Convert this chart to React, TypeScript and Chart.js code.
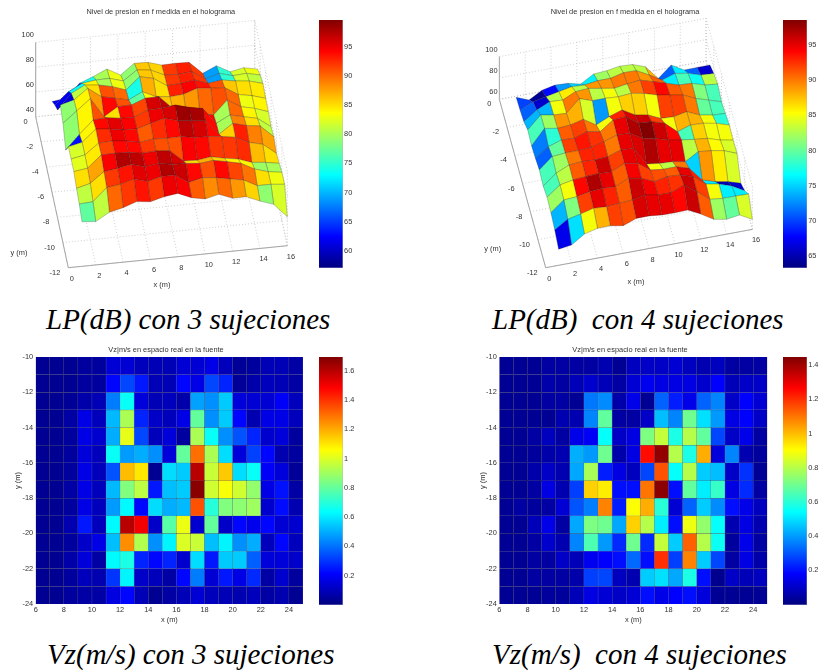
import { useEffect, useRef } from "react";
import { Chart, registerables } from "chart.js";

Chart.register(...registerables);

// ---------- data ----------
const surfaceXs = [1, 2, 3, 4, 5, 6, 7, 8, 9, 10, 11, 12, 13, 14, 15, 16];
const surfaceYs = [-12, -11, -10, -9, -8, -7, -6, -5, -4, -3, -2, -1];
const xTicks3d = [0, 2, 4, 6, 8, 10, 12, 14, 16];
const yTicks3d = [0, -2, -4, -6, -8, -10, -12];
const zTicksA = [40, 60, 80, 100];
const zTicksB = [60, 80, 100];

const heightsA = [
  [76, 75, 81.4, 84, 87.8, 86.6, 89.5, 91.1, 86.5, 84.4, 87, 82.7, 82.9, 78.2, 74.5, 63.4],
  [80.1, 80.9, 91.1, 92.7, 95.9, 92.7, 95.6, 95.8, 88.7, 91.4, 90.3, 88.2, 86.2, 80.5, 80.5, 79.4],
  [82.6, 85.5, 93.9, 95.4, 97.6, 94.6, 96.2, 94.2, 93.9, 92.8, 94.1, 91.9, 89.5, 83.8, 80.5, 78.9],
  [86, 87.6, 97.2, 97.4, 97, 95.2, 96, 95.1, 85.7, 85.1, 86.9, 84.5, 82.8, 79, 77.9, 76],
  [86, 88.2, 96.5, 97.2, 96.1, 93.9, 95.5, 94.9, 95.2, 93.3, 93, 91.9, 90.2, 85, 82.3, 73.9],
  [85.7, 88.2, 97.8, 96.7, 94.9, 94.6, 97.9, 100.9, 97.9, 96.8, 95.7, 83.6, 91.3, 88.4, 87, 77.2],
  [72.9, 84.4, 94.9, 95.7, 94.1, 93.8, 98.6, 98.8, 100.4, 97.4, 95.4, 82.2, 87.9, 85.4, 83, 75.2],
  [84.4, 93.2, 102, 86.3, 93.3, 93.6, 97.9, 98.1, 87.6, 82.4, 81.3, 78.8, 89.8, 83.3, 80.9, 77.1],
  [89, 91.9, 100.2, 92.4, 89.9, 87.5, 93, 87.9, 86.8, 87.6, 91.4, 90.3, 89.7, 83, 81, 77.7],
  [74.8, 87.1, 92.7, 91.6, 89.2, 85.4, 95, 92.5, 85.5, 86.3, 87.9, 84.1, 85.7, 83.8, 82.6, 79.6],
  [68.7, 78.3, 83.9, 85.5, 85.7, 82.5, 90.3, 89.1, 84, 83.4, 84.5, 77.4, 80.9, 77.9, 78.7, 76.2],
  [61.3, 62.9, 73.8, 78.1, 83.1, 77.2, 85.5, 85.2, 81.9, 82.2, 81.9, 71.9, 76.9, 70.9, 73.1, 70.9],
];
const pressureA = [
  [77, 81, 90, 92, 93.5, 92, 95, 94.5, 90.5, 88.5, 90, 88, 85.5, 79, 82],
  [81, 85, 92, 93.5, 95.5, 95, 97.5, 96.5, 94, 91, 94, 91.5, 89.5, 85, 83],
  [85, 87.5, 94.5, 97.5, 97, 95, 97, 96, 85, 87, 85.5, 84, 84, 79.5, 80],
  [82.5, 84.5, 91.5, 94, 94, 92, 91, 91, 94.5, 94, 92, 92, 92.5, 86.5, 85],
  [82, 84.5, 92.5, 95, 94, 90.5, 92.5, 94, 97, 96, 94, 85.5, 93, 89, 87.5],
  [63, 84, 94, 95.5, 94.5, 92, 95, 96, 98.5, 98, 94, 80, 89, 85, 81],
  [79, 84, 91, 85, 94, 91.5, 96, 97, 96, 96, 94, 80, 90, 84, 82],
  [79, 84, 88, 94, 91, 77, 84, 86, 87, 88, 90, 91, 90, 83, 84],
  [61, 81, 85, 91, 90, 74, 87, 85, 93, 94.5, 93.5, 91, 86, 85, 84.5],
  [62, 73, 84, 80, 83, 79, 86, 85.5, 92, 93, 92, 69, 75, 82, 81],
  [62, 64, 74, 80, 83, 79, 86, 85.5, 92, 93, 92, 69, 75, 82, 83],
];

const heightsB = [
  [75, 76.8, 84.8, 87.9, 88.1, 85.9, 90.5, 90.5, 89.2, 89, 89.4, 83.4, 76.1, 73.9, 75.7, 69.4],
  [80, 87.7, 90.4, 93.5, 92.8, 93.7, 94.6, 97, 94.8, 94.7, 99.7, 91.2, 81.7, 80.4, 80.3, 80],
  [83, 92.7, 93.5, 96, 96.9, 96.2, 101.7, 99.5, 94.1, 96.6, 95.9, 92, 82.9, 80.7, 76.6, 70],
  [84.3, 93.6, 96, 96.9, 97.7, 97, 102.6, 100.4, 91.9, 90.3, 90.5, 86.7, 73.5, 69.7, 67.5, 63.7],
  [81.7, 91.4, 96.9, 97.8, 97.1, 98, 102, 101.3, 84.4, 82.7, 82, 79.8, 86.9, 85.6, 83.4, 78.6],
  [83.6, 93.9, 95, 95, 95.8, 98.9, 102.9, 102.2, 95.3, 93, 89.2, 87, 85.3, 84, 80.2, 77.9],
  [81.3, 90, 94, 93.4, 97.4, 95, 103.8, 104.7, 96.2, 95.5, 91.7, 81.6, 85.6, 85, 82.7, 78.8],
  [79.8, 94, 91.8, 92.7, 95.7, 88.2, 93.8, 97.8, 90.9, 88.6, 83.2, 82.5, 85, 79.6, 77.3, 76.6],
  [81.6, 93.4, 91.2, 90.5, 102, 97.8, 97.8, 97, 98, 95.7, 92, 89.7, 87.5, 82, 78.2, 74.4],
  [76.3, 85, 90.5, 89.8, 95.4, 96.2, 94, 91.8, 93.6, 95, 91.3, 87.5, 83.7, 83, 79.2, 77.8],
  [74, 79.6, 82, 84.5, 86.9, 86.2, 88, 88, 91, 90.7, 84.4, 77.4, 81.4, 79.2, 75.4, 74.7],
  [72.8, 68, 75, 77.5, 76.9, 74, 81.2, 82, 84, 83.4, 79, 65.8, 76.1, 69.2, 69.4, 69.4],
];
const pressureB = [
  [67, 75.5, 85, 88, 92, 91.5, 95.5, 95, 95, 94, 96, 91, 82, 80, 84],
  [74, 81, 92, 95, 93, 91, 96, 94.5, 93, 92.5, 96, 92, 85, 76, 76],
  [82, 85, 94, 97, 95, 91, 94.5, 92, 91.5, 91, 95, 93, 76, 65, 66],
  [79, 83, 91, 93, 96, 92, 95, 95, 85, 83, 90, 75, 89, 86, 84],
  [79, 82, 90, 93, 93, 90, 95, 95.5, 97, 95, 95, 83, 88, 85.5, 84],
  [71, 80, 92, 93.5, 92.5, 90, 95, 97, 98.5, 96, 94, 79, 87, 85, 85],
  [72, 78, 91, 92, 90, 85, 93, 95.5, 96, 92, 85, 88, 88, 85, 78],
  [79, 82, 89, 88, 84, 73, 85, 87, 87, 85, 92, 92, 90, 80, 79],
  [74, 74, 85, 90, 89, 83, 85, 83, 90, 92, 94, 91, 90, 81, 79],
  [71, 66, 83, 86, 83, 89, 89, 90, 90, 89, 91, 76, 79, 77, 83],
  [70, 64, 68, 73, 75, 76, 82, 83, 83, 83, 88, 71, 76, 71, 66],
];

const gridColumns = [6, 7, 8, 9, 10, 11, 12, 13, 14, 15, 16, 17, 18, 19, 20, 21, 22, 23, 24];
const gridRows = [-10, -11, -12, -13, -14, -15, -16, -17, -18, -19, -20, -21, -22, -23];

const velocityA = [
  [.03, .03, .03, .05, .05, .14, .14, .1, .09, .09, .14, .14, .17, .1, .04, .05, .09, .09, .06],
  [.03, .03, .03, .05, .05, .22, .33, .25, .09, .09, .22, .17, .33, .27, .04, .07, .1, .09, .06],
  [.03, .03, .04, .07, .09, .42, .65, .15, .09, .1, .07, .48, .45, .55, .15, .14, .14, .2, .1],
  [.03, .03, .06, .17, .1, .52, .92, .27, .12, .1, .17, .8, .45, .55, .22, .08, .17, .17, .1],
  [.03, .03, .05, .17, .13, .5, 1.02, .33, .1, .15, .05, .92, .65, .45, .35, .27, .13, .15, .05],
  [.03, .03, .05, .15, .1, .65, .47, .5, .45, .15, .8, 1.3, .92, .58, .15, .32, .22, .08, .05],
  [.03, .03, .05, .17, .1, .35, 1.17, 1.1, .03, .58, .55, 1.6, .97, 1.15, .58, .65, .2, .15, .04],
  [.03, .03, .06, .17, .1, .52, .85, .95, .25, .53, .55, 1.68, .98, 1.05, .98, .88, .17, .24, .06],
  [.03, .03, .05, .17, .1, .47, .63, .22, .58, .5, .52, 1.35, .7, .85, .87, .9, .13, .23, .08],
  [.03, .03, .08, .25, .1, .63, 1.6, 1.5, .12, .78, 1.03, .13, .8, .12, .22, .18, .22, .14, .13],
  [.03, .03, .05, .12, .17, .53, 1.25, .93, .45, .62, 1, .97, .53, .62, .45, .5, .1, .22, .1],
  [.03, .03, .07, .15, .06, .63, .68, .27, .22, .27, .13, .58, .25, .55, .55, .37, .15, .15, .12],
  [.03, .03, .05, .1, .08, .3, .62, .12, .1, .06, .22, .42, .14, .25, .17, .28, .06, .13, .05],
  [.03, .03, .05, .06, .06, .16, .22, .09, .03, .06, .09, .14, .1, .09, .08, .1, .06, .08, .03],
];

const velocityB = [
  [.03, .03, .03, .05, .05, .05, .05, .07, .03, .09, .1, .1, .12, .09, .07, .09, .05, .05, .05],
  [.03, .03, .03, .06, .05, .08, .11, .08, .05, .12, .16, .14, .14, .14, .11, .18, .08, .1, .1],
  [.03, .03, .03, .05, .05, .03, .35, .38, .06, .15, .03, .32, .22, .15, .32, .37, .1, .18, .12],
  [.03, .03, .03, .03, .07, .07, .37, .68, .05, .05, .1, .45, .37, .7, .5, .4, .14, .18, .1],
  [.03, .03, .05, .09, .05, .15, .17, .55, .1, .14, .72, .82, .58, .8, .68, .28, .1, .15, .05],
  [.03, .03, .04, .06, .07, .43, .4, .7, .06, .14, 1.25, 1.42, .8, .58, 1.02, .13, .37, .07, .04],
  [.03, .03, .06, .1, .07, .42, .78, .22, .14, .09, .28, 1.15, .55, .8, .47, .45, .1, .25, .03],
  [.03, .03, .05, .14, .07, .27, .97, .93, .2, .2, 1.1, 1.43, .2, .68, .52, .62, .14, .24, .05],
  [.03, .05, .04, .05, .12, .3, .36, 1.08, .22, .9, 1.02, .6, .12, .32, .47, .38, .2, .15, .09],
  [.03, .03, .08, .15, .05, .42, .72, .7, .42, .97, .8, .52, .2, .88, .75, .55, .07, .14, .07],
  [.03, .03, .05, .11, .07, .37, .65, .4, .24, .7, .24, .82, .47, 1.13, .8, .56, .04, .15, .05],
  [.03, .03, .05, .05, .1, .08, .16, .18, .2, .33, .2, 1.2, .27, 1.08, .47, .28, .05, .14, .06],
  [.03, .03, .05, .05, .05, .06, .27, .28, .09, .07, .47, .5, .42, .58, .2, .02, .1, .08, .09],
  [.03, .03, .03, .04, .04, .08, .14, .12, .1, .12, .2, .15, .18, .2, .13, .03, .03, .03, .03],
];

const barTicksA = [60, 65, 70, 75, 80, 85, 90, 95];
const barTicksB = [65, 70, 75, 80, 85, 90, 95];
const barTicksC = [0.2, 0.4, 0.6, 0.8, 1, 1.2, 1.4, 1.6];
const barTicksD = [0.2, 0.4, 0.6, 0.8, 1, 1.2, 1.4];

const titlePressure = "Nivel de presion en f medida en el holograma";
const titleVelocity = "Vz|m/s en espacio real en la fuente";
const captions = [
  { text: "LP(dB) con 3 sujeciones", left: 46, top: 302 },
  { text: "LP(dB)  con 4 sujeciones", left: 492, top: 302 },
  { text: "Vz(m/s) con 3 sujeciones", left: 47, top: 637 },
  { text: "Vz(m/s)  con 4 sujeciones", left: 492, top: 637 },
];

// ---------- helpers ----------
const FONT = "'Liberation Sans', Arial, sans-serif";
const TICK_SIZE = 7.4;
const INK = "#333";

const clamp01 = (v: number) => Math.max(0, Math.min(1, v));
function jet(t: number) {
  const r = clamp01(1.5 - Math.abs(4 * t - 3));
  const g = clamp01(1.5 - Math.abs(4 * t - 2));
  const b = clamp01(1.5 - Math.abs(4 * t - 1));
  return `rgb(${Math.round(r * 255)},${Math.round(g * 255)},${Math.round(b * 255)})`;
}

type TextItem = { text: string; x: number; y: number; align?: CanvasTextAlign };

const textPlugin = (items: TextItem[]) => ({
  id: "panelText",
  afterDraw(chart: any) {
    const ctx = chart.ctx;
    ctx.save();
    ctx.fillStyle = INK;
    ctx.font = `${TICK_SIZE}px ${FONT}`;
    ctx.textBaseline = "middle";
    for (const it of items) {
      ctx.textAlign = it.align || "center";
      ctx.fillText(it.text, it.x, it.y);
    }
    ctx.restore();
  },
});

function ChartCanvas({ left, top, width, height, build }: any) {
  const ref = useRef<HTMLCanvasElement>(null);
  useEffect(() => {
    const chart = new Chart(ref.current as HTMLCanvasElement, build());
    return () => chart.destroy();
  }, []);
  return (
    <canvas
      ref={ref}
      width={width}
      height={height}
      style={{ position: "absolute", left, top, width, height, filter: "blur(0.45px)" }}
    />
  );
}

// ---------- 3D surface panels ----------
type View = {
  origin: [number, number];
  ex: [number, number];
  ey: [number, number];
  ez: number;
  zFloor: number;
  zTicks: number[];
  cmin: number;
  cmax: number;
  title: [number, number];
  xLabel: [number, number];
  yLabel: [number, number];
};

function surfaceConfig(view: View, heights: number[][], faces: number[][], w: number, h: number) {
  const project = (x: number, y: number, z: number) => ({
    x: view.origin[0] + x * view.ex[0] + (y + 12) * view.ey[0],
    y: view.origin[1] + x * view.ex[1] + (y + 12) * view.ey[1] - (z - view.zFloor) * view.ez,
  });

  const datasets: any[] = [];
  // datasets are painted last-to-first: front faces go first so that they stay on top
  for (let r = 0; r < faces.length; r++) {
    for (let c = 0; c < faces[r].length; c++) {
      const p = (rr: number, cc: number) => project(surfaceXs[cc], surfaceYs[rr], heights[rr][cc]);
      datasets.push({
        data: [p(r, c), p(r, c + 1), p(r + 1, c + 1), p(r + 1, c), p(r, c)],
        showLine: true,
        fill: "shape",
        backgroundColor: jet((faces[r][c] - view.cmin) / (view.cmax - view.cmin)),
        borderColor: "rgba(30,30,30,0.5)",
        borderWidth: 0.5,
        pointRadius: 0,
        tension: 0,
      });
    }
  }
  const guide = (a: any, b: any, solid = false) =>
    datasets.push({
      data: [a, b],
      showLine: true,
      fill: false,
      borderColor: solid ? "#888" : "#bbb",
      borderWidth: solid ? 0.8 : 0.7,
      borderDash: solid ? [] : [1, 2],
      pointRadius: 0,
    });
  const f = view.zFloor;
  const zTop = view.zTicks[view.zTicks.length - 1];
  for (const x of xTicks3d) {
    guide(project(x, -12, f), project(x, 0, f));
    guide(project(x, 0, f), project(x, 0, zTop));
  }
  for (const y of yTicks3d) {
    guide(project(0, y, f), project(16, y, f));
    guide(project(16, y, f), project(16, y, zTop));
  }
  for (const z of view.zTicks) {
    guide(project(0, 0, z), project(16, 0, z));
    guide(project(16, 0, z), project(16, -12, z));
  }
  guide(project(0, 0, f), project(0, 0, zTop), true);
  guide(project(0, 0, f), project(0, -12, f), true);
  guide(project(0, -12, f), project(16, -12, f), true);

  const items: TextItem[] = [
    { text: titlePressure, x: view.title[0], y: view.title[1] },
    { text: "x (m)", x: view.xLabel[0], y: view.xLabel[1] },
    { text: "y (m)", x: view.yLabel[0], y: view.yLabel[1] },
  ];
  for (const x of xTicks3d) {
    const p = project(x, -12, f);
    items.push({ text: String(x), x: p.x + 3.6, y: p.y + 11 });
  }
  for (const y of yTicks3d) {
    const p = project(0, y, f);
    items.push({ text: String(y), x: p.x - 8, y: p.y + 5, align: "right" });
  }
  for (const z of view.zTicks) {
    const p = project(0, 0, z);
    items.push({ text: String(z), x: p.x - 1.8, y: p.y - 7, align: "right" });
  }

  return {
    type: "scatter" as const,
    data: { datasets },
    plugins: [textPlugin(items)],
    options: {
      animation: false as const,
      responsive: false,
      layout: { padding: 0 },
      plugins: { legend: { display: false }, tooltip: { enabled: false }, title: { display: false } },
      scales: {
        x: { type: "linear", min: 0, max: w, display: false },
        y: { type: "linear", min: 0, max: h, reverse: true, display: false },
      },
    },
  };
}

// ---------- heat-map panels ----------
function heatConfig(values: number[][], cmax: number, yBand: number, yTitleGap: number, rightGap: number, titleX: number) {
  const datasets = gridRows.map((top, r) => ({
    label: String(top),
    data: gridColumns.map((x) => ({ x: x + 0.5, y: [top - 1, top] })),
    backgroundColor: values[r].map((v) => jet(v / cmax)),
    borderColor: "rgba(0,0,20,0.32)",
    borderWidth: 0.6,
    borderSkipped: false,
    inflateAmount: 0.5,
    grouped: false,
    categoryPercentage: 1,
    barPercentage: 1,
  }));
  const axisFont = { family: FONT, size: TICK_SIZE };
  return {
    type: "bar" as const,
    data: { datasets },
    plugins: [textPlugin([{ text: titleVelocity, x: titleX, y: 5 }])],
    options: {
      animation: false as const,
      responsive: false,
      layout: { padding: { top: 12, right: rightGap, left: 0, bottom: 0 } },
      plugins: { legend: { display: false }, tooltip: { enabled: false } },
      scales: {
        x: {
          type: "linear",
          min: 6,
          max: 25,
          offset: false,
          grid: { display: false, drawTicks: false },
          border: { display: false },
          ticks: {
            stepSize: 2,
            includeBounds: false,
            autoSkip: false,
            maxRotation: 0,
            font: axisFont,
            color: INK,
            padding: 2,
          },
          title: { display: true, text: "x (m)", font: axisFont, color: INK, padding: { top: 0, bottom: 0.6 } },
          afterFit(scale: any) {
            scale.height = 21;
          },
        },
        y: {
          type: "linear",
          min: -24,
          max: -10,
          grid: { display: false, drawTicks: false },
          border: { display: false },
          ticks: { stepSize: 2, autoSkip: false, font: axisFont, color: INK, padding: 2.5 },
          title: { display: true, text: "y (m)", font: axisFont, color: INK, padding: { top: yTitleGap, bottom: 0 } },
          afterFit(scale: any) {
            scale.width = yBand;
          },
        },
      },
    },
  };
}

// ---------- colour bars ----------
function colorBarConfig(min: number, max: number, ticks: number[], labelWidth: number, height: number, top: number) {
  return {
    type: "bar" as const,
    data: {
      labels: ["c"],
      datasets: [
        {
          data: [[min, max]],
          categoryPercentage: 1,
          barPercentage: 1,
          borderWidth: 0,
          backgroundColor(ctx: any) {
            const area = ctx.chart.chartArea;
            if (!area) return "#000";
            const g = ctx.chart.ctx.createLinearGradient(0, area.bottom, 0, area.top);
            for (let i = 0; i <= 8; i++) g.addColorStop(i / 8, jet(i / 8));
            return g;
          },
        },
      ],
    },
    options: {
      animation: false as const,
      responsive: false,
      layout: { padding: { top, bottom: height - top - 247.7, left: 0, right: 0 } },
      plugins: { legend: { display: false }, tooltip: { enabled: false } },
      scales: {
        x: { display: false },
        y: {
          position: "right",
          min,
          max,
          grid: { display: false, drawTicks: false },
          border: { display: true, color: "#888", width: 0.6 },
          afterBuildTicks(scale: any) {
            scale.ticks = ticks.map((value) => ({ value }));
          },
          ticks: {
            font: { family: FONT, size: TICK_SIZE },
            color: INK,
            padding: 1.5,
            autoSkip: false,
            callback: (v: any) => String(v),
          },
          afterFit(scale: any) {
            scale.width = labelWidth;
          },
        },
      },
    },
  };
}

const viewA: View = {
  origin: [68.3, 267.7],
  ex: [13.69, -1.375],
  ey: [-2.717, -12.58],
  ez: 1.239,
  zFloor: 40,
  zTicks: zTicksA,
  cmin: 57.1,
  cmax: 99.6,
  title: [160.8, 12.3],
  xLabel: [162, 285],
  yLabel: [19, 253],
};
const viewB: View = {
  origin: [135.7, 267.7],
  ex: [12.92, -2.396],
  ey: [-3.861, -14.03],
  ez: 1.067,
  zFloor: 60,
  zTicks: zTicksB,
  cmin: 63.3,
  cmax: 98.6,
  title: [215, 12.3],
  xLabel: [226, 281.7],
  yLabel: [82.7, 249],
};

export default function App() {
  return (
    <div style={{ position: "absolute", left: 0, top: 0, width: 819, height: 671, background: "#fff", overflow: "hidden" }}>
      <ChartCanvas left={0} top={0} width={310} height={298}
        build={() => surfaceConfig(viewA, heightsA, pressureA, 310, 298)} />
      <ChartCanvas left={318.7} top={0} width={50} height={280}
        build={() => colorBarConfig(57.1, 99.6, barTicksA, 26.4, 280, 20)} />

      <ChartCanvas left={410} top={0} width={365} height={298}
        build={() => surfaceConfig(viewB, heightsB, pressureB, 365, 298)} />
      <ChartCanvas left={782.7} top={0} width={36.3} height={280}
        build={() => colorBarConfig(63.3, 98.6, barTicksB, 12.3, 280, 20)} />

      <ChartCanvas left={0} top={345} width={310} height={280}
        build={() => heatConfig(velocityA, 1.696, 35.7, 13.4, 7, 166)} />
      <ChartCanvas left={318.7} top={345} width={50} height={280}
        build={() => colorBarConfig(0, 1.696, barTicksC, 26.4, 280, 12)} />

      <ChartCanvas left={460} top={345} width={315} height={280}
        build={() => heatConfig(velocityB, 1.447, 39.3, 18.4, 7.7, 170)} />
      <ChartCanvas left={782.7} top={345} width={36.3} height={280}
        build={() => colorBarConfig(0, 1.447, barTicksD, 12.3, 280, 12)} />

      {captions.map((c) => (
        <div key={c.text} style={{
          position: "absolute", left: c.left, top: c.top, whiteSpace: "pre",
          fontFamily: "'Liberation Serif', serif", fontStyle: "italic", fontSize: 29, lineHeight: "34px", color: "#000",
        }}>{c.text}</div>
      ))}
    </div>
  );
}
